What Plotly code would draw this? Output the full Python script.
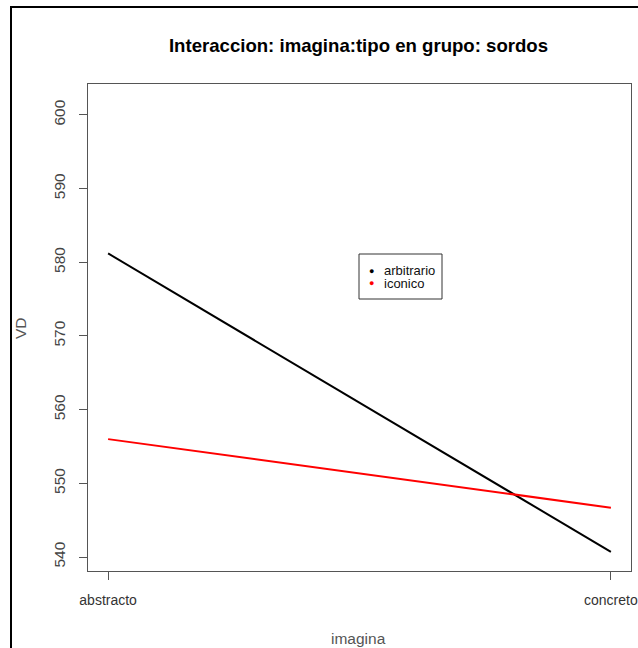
import plotly.graph_objects as go

imagina = ["abstracto", "concreto"]
arbitrario = [581.2, 540.7]
iconico = [556.0, 546.7]
series_names = ["arbitrario", "iconico"]
series_colors = ["#000000", "#FF0000"]
y_ticks = [540, 550, 560, 570, 580, 590, 600]

W, H = 638, 648
L, R, T, B = 88, 7, 84, 77
pw, ph = W - L - R, H - T - B

def px(X):
    return (X - L) / pw

def py(Y):
    return (H - B - Y) / ph

fig = go.Figure()
xs = [1, 2]
for name, vals, col in zip(series_names, [arbitrario, iconico], series_colors):
    fig.add_trace(go.Scatter(x=xs, y=vals, mode="lines", line=dict(color=col, width=2),
                             showlegend=False, name=name))

font = "Liberation Sans, Arial, sans-serif"

# manual legend (R style)
leg_x0, leg_x1, leg_y0, leg_y1 = 359, 442, 254, 299
annotations = []
for i, (name, col) in enumerate(zip(series_names, series_colors)):
    yy = 270.5 + i * 12.7
    annotations.append(dict(
        xref="paper", yref="paper", x=px(371), y=py(yy), xanchor="center", yanchor="middle",
        text="●", showarrow=False, font=dict(size=9, color=col, family=font)))
    annotations.append(dict(
        xref="paper", yref="paper", x=px(382), y=py(yy), xanchor="left", yanchor="middle",
        text=name, showarrow=False, font=dict(size=13, color="#111", family=font)))

# axis titles as annotations (avoid automargin)
annotations.append(dict(xref="paper", yref="paper", x=px(358), y=py(638),
                        xanchor="center", yanchor="middle", text="imagina", showarrow=False,
                        font=dict(size=15.5, color="#555", family=font)))
annotations.append(dict(xref="paper", yref="paper", x=px(20), y=py(328),
                        xanchor="center", yanchor="middle", text="VD", showarrow=False,
                        textangle=-90, font=dict(size=15.5, color="#555", family=font)))

fig.update_layout(
    width=W, height=H,
    margin=dict(l=L, r=R, t=T, b=B, autoexpand=False),
    paper_bgcolor="white", plot_bgcolor="white",
    font=dict(family=font, size=12, color="#222"),
    title=dict(text="<b>Interaccion: imagina:tipo en grupo: sordos</b>",
               x=px(358.5), xref="paper", xanchor="center",
               y=1 - 45 / H, yanchor="middle", font=dict(size=18.6, color="#000")),
    showlegend=False,
    annotations=annotations,
    xaxis=dict(range=[0.96, 2.04], tickvals=xs, ticktext=imagina, automargin=False,
               showline=True, linecolor="#555", linewidth=1, mirror=True,
               ticks="outside", ticklen=8, tickcolor="#555",
               showgrid=False, zeroline=False, ticklabelstandoff=8,
               tickfont=dict(size=14, color="#333")),
    yaxis=dict(range=[538.1, 604.2], tickvals=y_ticks, automargin=False,
               showline=True, linecolor="#555", linewidth=1, mirror=True,
               ticks="outside", ticklen=8, tickcolor="#555", tickangle=-90,
               showgrid=False, zeroline=False, ticklabelstandoff=8,
               tickfont=dict(size=15.5, color="#444")),
    shapes=[
        dict(type="rect", xref="paper", yref="paper", x0=px(11), x1=px(W + 20),
             y0=py(H + 20), y1=py(7), line=dict(color="#000", width=2),
             fillcolor="rgba(0,0,0,0)", layer="above"),
        dict(type="rect", xref="paper", yref="paper", x0=px(leg_x0), x1=px(leg_x1),
             y0=py(leg_y1), y1=py(leg_y0), line=dict(color="#333", width=1),
             fillcolor="white", layer="above"),
    ],
)
fig.write_html("out.html", config={"displayModeBar": False},
               post_script="document.body.style.margin='0px';")
